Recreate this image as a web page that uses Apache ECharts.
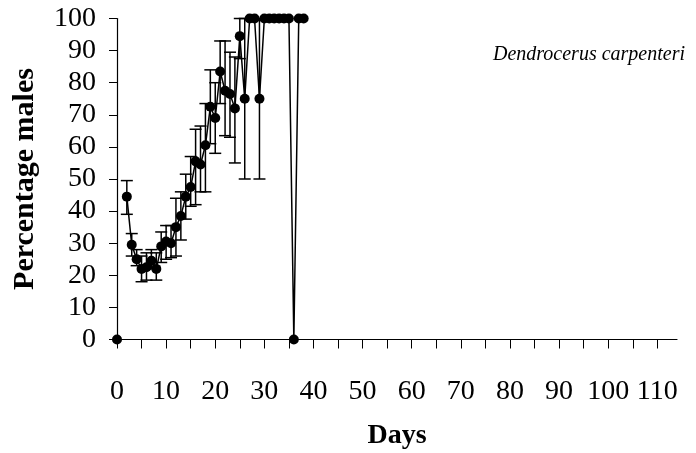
<!DOCTYPE html>
<html>
<head>
<meta charset="utf-8">
<script src="https://cdn.jsdelivr.net/npm/echarts@6/dist/echarts.min.js"></script>
<style>
  html, body { margin: 0; padding: 0; background: #fff; }
  #chart { width: 696px; height: 453px; }
</style>
</head>
<body>
<div id="chart"></div>
<script>
// days since start
const days = [0, 1, 2, 3, 4, 5, 6, 7, 8, 9, 10, 11, 12, 13, 14, 15, 16, 17, 18, 19,
  20, 21, 22, 23, 24, 25, 26, 27, 28, 29, 30, 31, 32, 33, 34, 35, 36, 37, 38];
// mean percentage males per day (null = no sample)
const pctMales = [0, null, 44.5, 29.5, 25, 22, 22.5, 24.5, 22, 29, 30.5, 30, 35, 38.5, 44.5, 47.5, 55.5, 54.5, 60.5, 72.5,
  69, 83.5, 77.5, 76.5, 72, 94.5, 75, 100, 100, 75, 100, 100, 100, 100, 100, 100, 0, 100, 100];
// error bar ends
const errLow = [null, null, 39, 26, 23, 18, 18.5, 22, 18.5, 24, 25, 25.5, 26, 31, 37.5, 41.5, 42, 46, 46, 61,
  58, 73.5, 63.5, 63, 55, 87.5, 50, null, null, 50, null, null, null, null, null, null, null, null, null];
const errHigh = [null, null, 49.5, 33, 28, 26, 27, 28, 27, 33.5, 35.5, 35.5, 44, 46, 51.5, 57, 65.5, 66.5, 73.5, 84,
  80, 93, 93, 89.5, 88, 100, 100, null, null, 100, null, null, null, null, null, null, null, null, null];

const xTicks = [0, 5, 10, 15, 20, 25, 30, 35, 40, 45, 50, 55, 60, 65, 70, 75, 80, 85, 90, 95, 100, 105, 110];
const xLabels = [0, 10, 20, 30, 40, 50, 60, 70, 80, 90, 100, 110];
const speciesName = "Dendrocerus carpenteri";

const FONT = "Liberation Serif";

const lineData = days.map((d, i) => [d, pctMales[i] === null ? "-" : pctMales[i]]);
const errData = [];
days.forEach((d, i) => {
  if (errLow[i] !== null) errData.push([d, errLow[i], errHigh[i]]);
});

const chart = echarts.init(document.getElementById("chart"));

chart.setOption({
  animation: false,
  backgroundColor: "#fff",
  title: {
    text: speciesName,
    right: 6,
    top: 40,
    textStyle: { fontFamily: FONT, fontStyle: "italic", fontWeight: "normal", fontSize: 20, color: "#000" },
  },
  // fixed plot box, don't let labels push it around
  grid: { left: 117, top: 18.5, right: 19, bottom: 113.5, outerBoundsMode: "none", containLabel: false },
  xAxis: {
    type: "value",
    min: 0,
    max: 114,
    name: "Days",
    nameLocation: "middle",
    nameGap: 82,
    nameTextStyle: { fontFamily: FONT, fontWeight: "bold", fontSize: 28, color: "#000" },
    splitLine: { show: false },
    axisLine: { lineStyle: { color: "#000", width: 1.2 } },
    axisTick: { inside: false, length: 9, customValues: xTicks, lineStyle: { color: "#000", width: 1 } },
    axisLabel: { customValues: xLabels, margin: 38, fontFamily: FONT, fontSize: 28, color: "#000" },
  },
  yAxis: {
    type: "value",
    min: 0,
    max: 100,
    interval: 10,
    name: "Percentage males",
    nameLocation: "middle",
    nameGap: 77,
    nameTextStyle: { fontFamily: FONT, fontWeight: "bold", fontSize: 30, color: "#000" },
    splitLine: { show: false },
    axisLine: { show: true, lineStyle: { color: "#000", width: 1.2 } },
    axisTick: { show: true, inside: false, length: 8, lineStyle: { color: "#000", width: 1 } },
    axisLabel: { margin: 21, fontFamily: FONT, fontSize: 28, color: "#000" },
  },
  series: [
    {
      type: "custom",
      data: errData,
      clip: false,
      z: 2,
      renderItem: (params, api) => {
        const x = api.value(0);
        const lo = api.coord([x, api.value(1)]);
        const hi = api.coord([x, api.value(2)]);
        const half = 6;
        const style = { stroke: "#000", lineWidth: 1.5 };
        return {
          type: "group",
          children: [
            { type: "line", shape: { x1: lo[0], y1: lo[1], x2: hi[0], y2: hi[1] }, style },
            { type: "line", shape: { x1: lo[0] - half, y1: lo[1], x2: lo[0] + half, y2: lo[1] }, style },
            { type: "line", shape: { x1: hi[0] - half, y1: hi[1], x2: hi[0] + half, y2: hi[1] }, style },
          ],
        };
      },
    },
    {
      type: "line",
      data: lineData,
      connectNulls: false,
      clip: false,
      z: 3,
      symbol: "circle",
      symbolSize: 10,
      itemStyle: { color: "#000" },
      lineStyle: { color: "#000", width: 1.5 },
    },
  ],
});
</script>
</body>
</html>
